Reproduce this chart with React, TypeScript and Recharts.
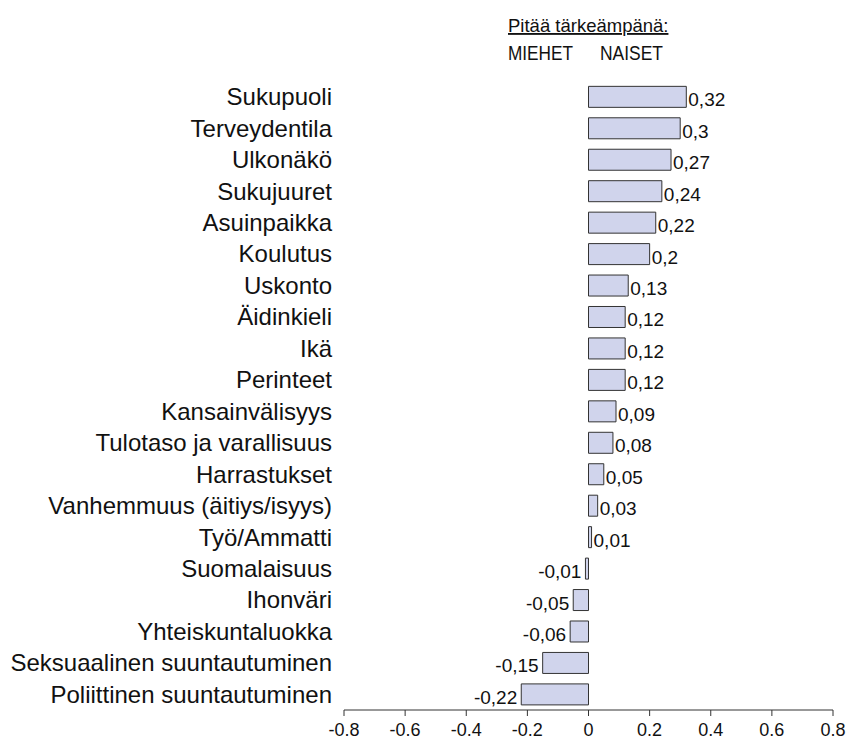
import { BarChart, Bar, XAxis, YAxis, LabelList } from 'recharts';

const categories = [
  'Sukupuoli',
  'Terveydentila',
  'Ulkonäkö',
  'Sukujuuret',
  'Asuinpaikka',
  'Koulutus',
  'Uskonto',
  'Äidinkieli',
  'Ikä',
  'Perinteet',
  'Kansainvälisyys',
  'Tulotaso ja varallisuus',
  'Harrastukset',
  'Vanhemmuus (äitiys/isyys)',
  'Työ/Ammatti',
  'Suomalaisuus',
  'Ihonväri',
  'Yhteiskuntaluokka',
  'Seksuaalinen suuntautuminen',
  'Poliittinen suuntautuminen',
];

const differences = [
  0.32, 0.3, 0.27, 0.24, 0.22, 0.2, 0.13, 0.12, 0.12, 0.12,
  0.09, 0.08, 0.05, 0.03, 0.01, -0.01, -0.05, -0.06, -0.15, -0.22,
];

const xTicks = [-0.8, -0.6, -0.4, -0.2, 0, 0.2, 0.4, 0.6, 0.8];

const font = '"Liberation Sans", Arial, sans-serif';

const data = categories.map((name, i) => ({ name, value: differences[i] }));

const formatTick = (v: number) => (v === 0 ? '0' : v.toFixed(1));
const formatValue = (v: number) => String(v).replace('.', ',');

function ValueLabel(props: any) {
  const { x, y, width, height, value } = props;
  const left = Math.min(x, x + width);
  const right = Math.max(x, x + width);
  const positive = value >= 0;
  return (
    <text
      x={positive ? right + 2 : left - 4}
      y={y + height - 1}
      textAnchor={positive ? 'start' : 'end'}
      fontSize={19}
      fontFamily={font}
      fill="#111"
    >
      {formatValue(value)}
    </text>
  );
}

export default function App() {
  return (
    <div style={{ position: 'absolute', left: 0, top: 0, width: 847, height: 740, background: '#fff' }}>
      <BarChart
        width={847}
        height={740}
        data={data}
        layout="vertical"
        margin={{ top: 81, right: 14, left: 0, bottom: 0 }}
        barCategoryGap="17%"
      >
        <XAxis
          type="number"
          domain={[-0.8, 0.8]}
          ticks={xTicks}
          tickFormatter={formatTick}
          allowDataOverflow
          stroke="#333"
          tickSize={6}
          tickMargin={7}
          tick={{ fontSize: 18, fontFamily: font, fill: '#111' }}
        />
        <YAxis
          type="category"
          dataKey="name"
          width={344}
          axisLine={false}
          tickLine={false}
          tickSize={0}
          tickMargin={12}
          interval={0}
          tick={{ fontSize: 24, fontFamily: font, fill: '#111' }}
        />
        <Bar dataKey="value" fill="#d0d4ec" stroke="#333" strokeWidth={1} isAnimationActive={false}>
          <LabelList dataKey="value" content={ValueLabel} />
        </Bar>
      </BarChart>
      <svg
        width={847}
        height={740}
        style={{ position: 'absolute', left: 0, top: 0, pointerEvents: 'none' }}
      >
        <text x={508} y={32} fontSize={18.5} fontFamily={font} fill="#111" textDecoration="underline">
          Pitää tärkeämpänä:
        </text>
        <text x={508} y={60} fontSize={21} fontFamily={font} fill="#111" textLength={65} lengthAdjust="spacingAndGlyphs">
          MIEHET
        </text>
        <text x={600} y={60} fontSize={21} fontFamily={font} fill="#111" textLength={63} lengthAdjust="spacingAndGlyphs">
          NAISET
        </text>
      </svg>
    </div>
  );
}
